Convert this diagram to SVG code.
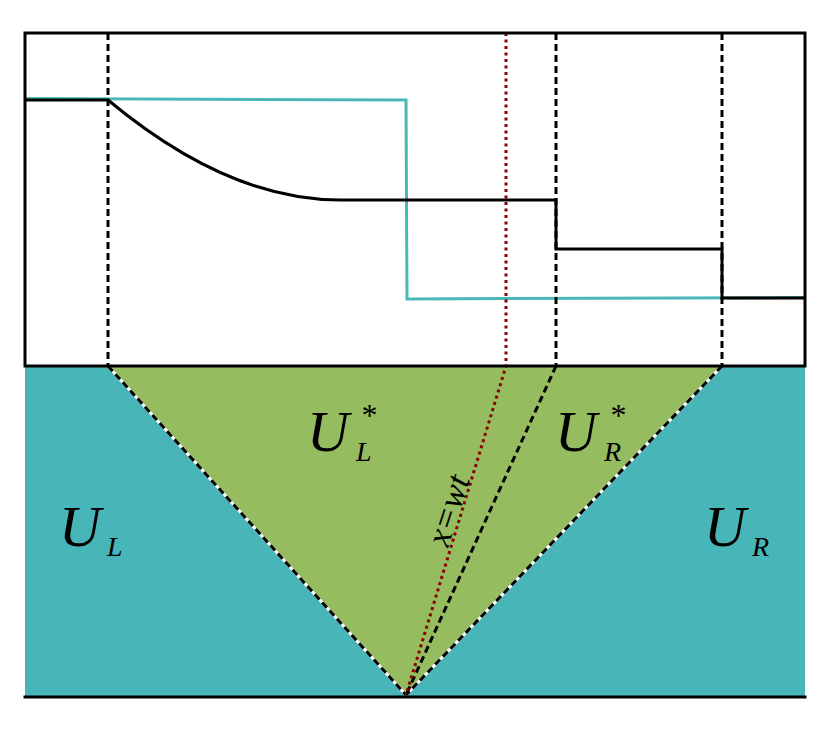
<svg xmlns="http://www.w3.org/2000/svg" width="830" height="729" viewBox="0 0 830 729">
<style>
.frame{fill:none;stroke:#000;stroke-width:3}
.dash{fill:none;stroke:#000;stroke-width:3;stroke-dasharray:7 4}
.white{fill:none;stroke:#fff;stroke-width:3}
.dot{fill:none;stroke:#8b0000;stroke-width:3;stroke-dasharray:3 3.5}
.cyanline{fill:none;stroke:#48b8b8;stroke-width:3}
.blackline{fill:none;stroke:#000;stroke-width:3}
.lbl{font-family:"Liberation Serif",serif;font-style:italic;fill:#000}
</style>
<rect width="830" height="729" fill="#fff"/>
<g id="regions">
<rect id="region-UL-UR" x="25" y="366" width="780" height="331" fill="#48b5b8"/>
<polygon id="region-star" points="108,366 722,366 406,695" fill="#95bc5f"/>
</g>
<g id="profiles">
<path id="cyan-profile" class="cyanline" d="M25,98.5 L406,100 L407,299 L805,297.5"/>
<path id="black-profile" class="blackline" d="M25,100 L108,100 Q228,200 340,200 L556,200 L556,249 L722,249 L722,298 L805,298"/>
</g>
<g id="connectors">
<line class="dash" x1="108" y1="33" x2="108" y2="366"/>
<line class="dash" x1="556" y1="33" x2="556" y2="366"/>
<line class="dash" x1="722" y1="33" x2="722" y2="366"/>
<line class="white" x1="108" y1="366" x2="406" y2="695"/>
<line class="dash" x1="108" y1="366" x2="406" y2="695"/>
<line class="white" x1="722" y1="366" x2="406" y2="695"/>
<line class="dash" x1="722" y1="366" x2="406" y2="695"/>
<line class="dash" x1="556" y1="366" x2="406" y2="695"/>
<path class="dot" d="M506,33 L506,366 L406,695"/>
</g>
<g id="frame">
<rect class="frame" x="25" y="33" width="780" height="333"/>
<line class="frame" x1="23.5" y1="697" x2="806.5" y2="697"/>
</g>
<g id="label-UL">
<text class="lbl" x="59" y="546" font-size="58">U</text>
<text class="lbl" x="107" y="556" font-size="28">L</text>
</g>
<g id="label-ULstar">
<text class="lbl" x="307" y="451" font-size="58">U</text>
<text class="lbl" x="356" y="461" font-size="28">L</text>
<text class="lbl" x="360" y="426" font-size="32">*</text>
</g>
<g id="label-URstar">
<text class="lbl" x="555" y="451" font-size="58">U</text>
<text class="lbl" x="604" y="461" font-size="28">R</text>
<text class="lbl" x="609" y="426" font-size="32">*</text>
</g>
<g id="label-UR">
<text class="lbl" x="704" y="546" font-size="58">U</text>
<text class="lbl" x="752" y="556" font-size="28">R</text>
</g>
<g id="label-xwt">
<text class="lbl" font-size="35" transform="translate(448,548) rotate(-72)">x=wt</text>
</g>
</svg>
